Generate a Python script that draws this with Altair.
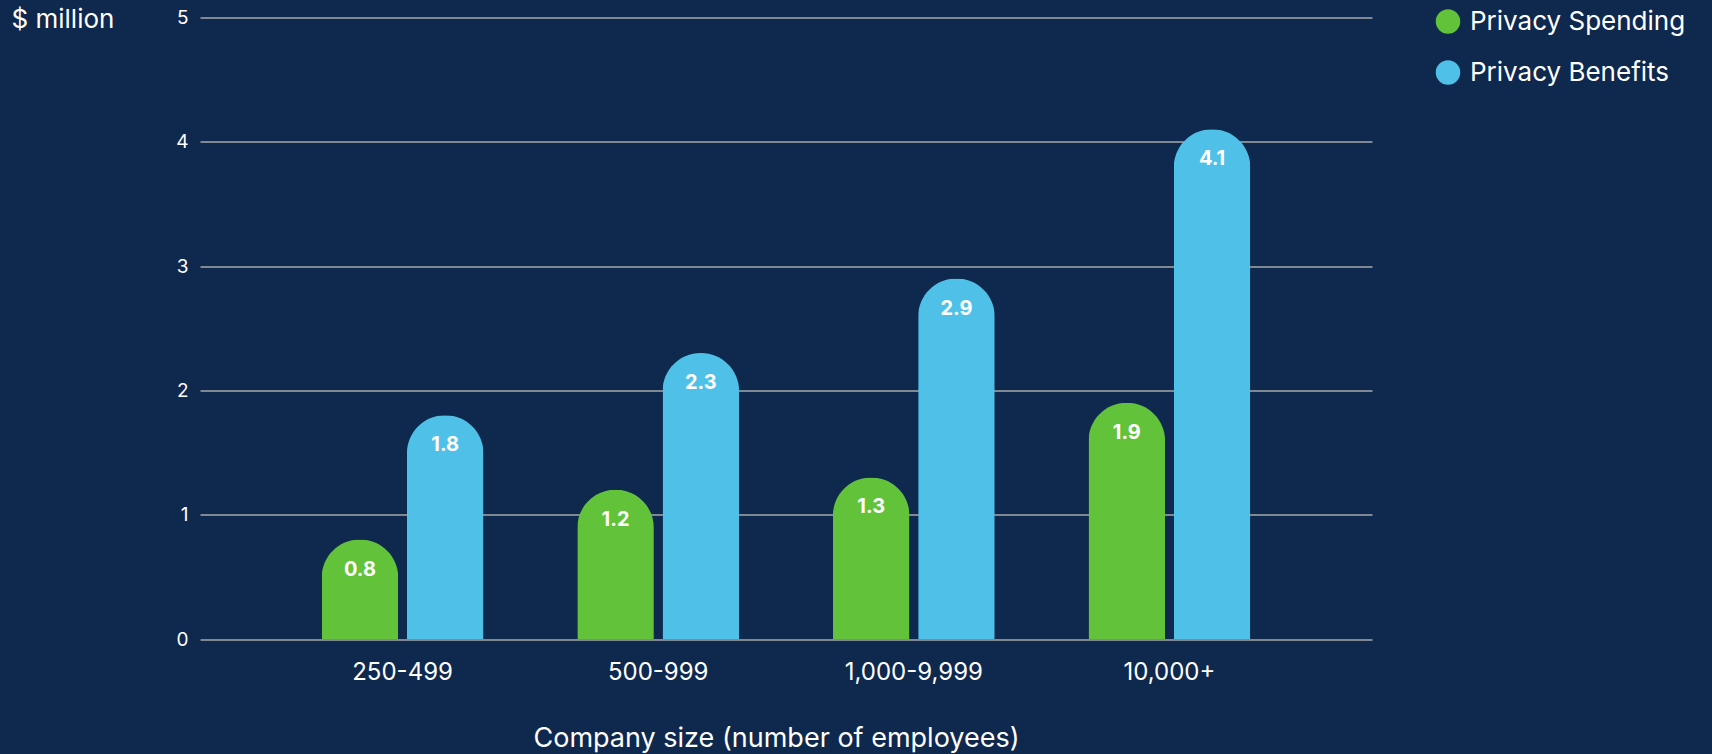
import altair as alt
import pandas as pd

categories = ["250-499", "500-999", "1,000-9,999", "10,000+"]
series = ["Privacy Spending", "Privacy Benefits"]
spending = [0.8, 1.2, 1.3, 1.9]
benefits = [1.8, 2.3, 2.9, 4.1]
colors = ["#62C33A", "#4FC1E9"]
y_ticks = [0, 1, 2, 3, 4, 5]

rows = []
for c, s, b in zip(categories, spending, benefits):
    rows.append({"size": c, "series": series[0], "value": s})
    rows.append({"size": c, "series": series[1], "value": b})
df = pd.DataFrame(rows)

FONT = "Inter"
BG = "#0E284E"

x_enc = alt.X(
    "size:N",
    sort=categories,
    scale=alt.Scale(paddingInner=0.367, paddingOuter=0.476),
    axis=alt.Axis(
        title="Company size (number of employees)",
        labelAngle=0,
        labelFontSize=24,
        labelColor="white",
        labelFont=FONT,
        labelPadding=21,
        domain=False,
        ticks=False,
        titleFontSize=27,
        titleFont=FONT,
        titleFontWeight="normal",
        titleColor="white",
        titleX=576,
        titleY=99,
        titleBaseline="middle",
        titleAnchor="middle",
        titleAlign="center",
    ),
)
xoff = alt.XOffset("series:N", sort=series,
                   scale=alt.Scale(paddingInner=0.102, paddingOuter=0))
y_enc = alt.Y(
    "value:Q",
    scale=alt.Scale(domain=[0, 5], nice=False),
    axis=alt.Axis(
        values=y_ticks,
        format="d",
        title="$ million",
        titleAngle=0,
        titleX=-189,
        titleY=1.5,
        titleAlign="left",
        titleBaseline="middle",
        titleFontSize=26,
        titleFont=FONT,
        titleFontWeight="normal",
        titleColor="white",
        labelFontSize=19,
        labelColor="white",
        labelFont=FONT,
        labelPadding=12,
        domain=False,
        ticks=False,
        grid=True,
        gridColor="#A7A9AC",
        gridWidth=1.5,
    ),
)
color_enc = alt.Color(
    "series:N",
    sort=series,
    scale=alt.Scale(domain=series, range=colors),
    legend=alt.Legend(
        title=None,
        orient="none",
        legendX=1235,
        legendY=-9,
        symbolType="circle",
        symbolSize=600,
        symbolStrokeWidth=0,
        symbolOpacity=1,
        labelFontSize=26,
        labelFont=FONT,
        labelColor="white",
        labelOffset=9,
        rowPadding=25,
        labelLimit=400,
    ),
)

bars = alt.Chart(df).mark_bar(
    cornerRadiusTopLeft=38, cornerRadiusTopRight=38, opacity=1
).encode(x=x_enc, xOffset=xoff, y=y_enc, color=color_enc)

labels = alt.Chart(df).mark_text(
    dy=30, baseline="middle", align="center", color="white",
    fontSize=20, fontWeight="bold", font=FONT
).encode(x=alt.X("size:N", sort=categories), xOffset=alt.XOffset("series:N", sort=series),
         y="value:Q", text=alt.Text("value:Q", format=".1f"))

chart = alt.layer(bars, labels).properties(
    width=1172,
    height=621.5,
    background=BG,
    padding={"left": 200, "top": 17.5, "right": 340, "bottom": 115},
    autosize=alt.AutoSizeParams(type="none"),
).configure_view(stroke=None)

chart.save("out.html", embed_options={"renderer": "svg", "actions": False})
